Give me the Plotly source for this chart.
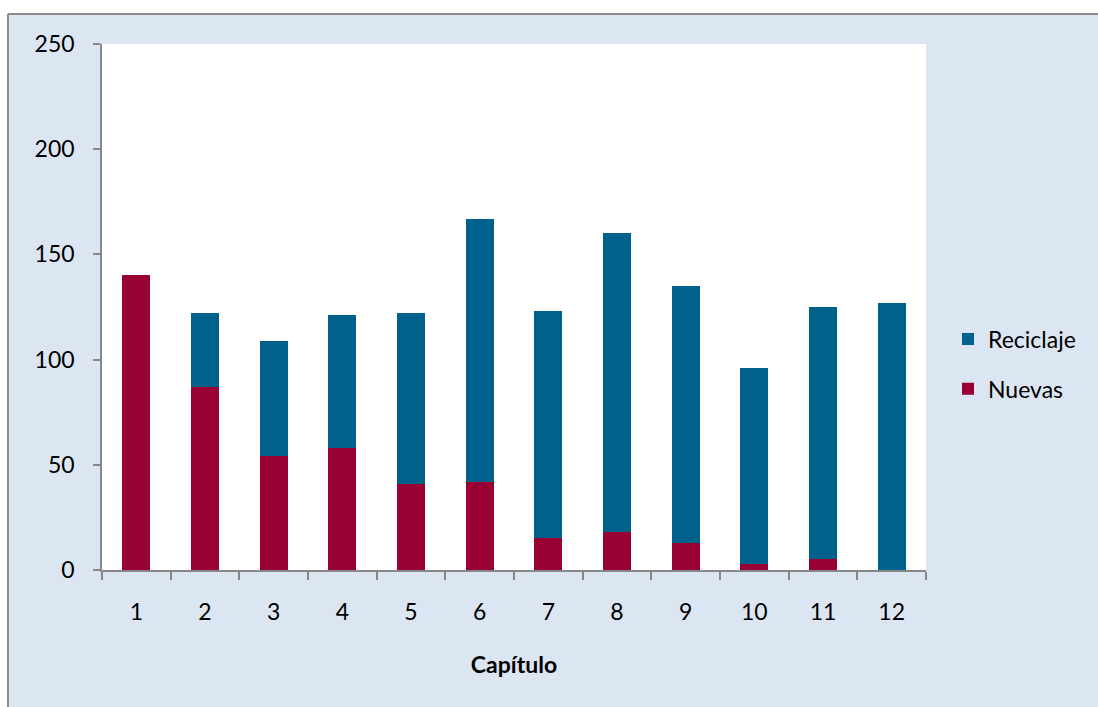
import plotly.graph_objects as go

# Chapters on the x axis and the two stacked series
capitulos = ["1", "2", "3", "4", "5", "6", "7", "8", "9", "10", "11", "12"]
nuevas = [140, 87, 54, 58, 41, 42, 15, 18, 13, 3, 5, 0]
reciclaje = [0, 35, 55, 63, 81, 125, 108, 142, 122, 93, 120, 127]
y_ticks = [0, 50, 100, 150, 200, 250]

ROJO = "#990033"
AZUL = "#00628B"
GRIS = "#878787"
FONDO = "#DCE6F2"
FUENTE = "Lato, 'Open Sans', sans-serif"

W, H = 1098, 707
ML, MR, MT, MB = 102, 172, 44, 137
PW, PH = W - ML - MR, H - MT - MB


def px_x(p):
    return (p - ML) / PW


def px_y(p):
    return (H - MB - p) / PH


fig = go.Figure()
fig.add_trace(go.Bar(x=capitulos, y=nuevas, name="Nuevas", marker_color=ROJO,
                     marker_line_width=0, legendgroup="a", legendrank=2))
fig.add_trace(go.Bar(x=capitulos, y=reciclaje, name="Reciclaje", marker_color=AZUL,
                     marker_line_width=0, legendgroup="b", legendrank=1))

# Outer frame: white strip left/top, grey border line
shapes = [
    dict(type="rect", xref="paper", yref="paper", x0=px_x(-5), x1=px_x(7),
         y0=px_y(720), y1=px_y(-5), fillcolor="white", line_width=0, layer="above"),
    dict(type="rect", xref="paper", yref="paper", x0=px_x(-5), x1=px_x(1110),
         y0=px_y(13), y1=px_y(-5), fillcolor="white", line_width=0, layer="above"),
    dict(type="line", xref="paper", yref="paper", x0=px_x(8), x1=px_x(8),
         y0=px_y(14), y1=px_y(720), line=dict(color="#8C8C8C", width=2), layer="above"),
    dict(type="line", xref="paper", yref="paper", x0=px_x(8), x1=px_x(1110),
         y0=px_y(14), y1=px_y(14), line=dict(color="#8C8C8C", width=2), layer="above"),
]

fig.update_layout(
    width=W, height=H,
    margin=dict(l=ML, r=MR, t=MT, b=MB, pad=0),
    barmode="stack",
    bargap=0.59,
    paper_bgcolor=FONDO,
    plot_bgcolor="white",
    font=dict(family=FUENTE, size=23, color="black"),
    shapes=shapes,
    legend=dict(
        x=px_x(948), y=px_y(364), xanchor="left", yanchor="middle",
        traceorder="grouped", tracegroupgap=17,
        bgcolor="rgba(0,0,0,0)", font=dict(size=23),
    ),
    xaxis=dict(
        type="category",
        showgrid=False,
        showline=True, linecolor=GRIS, linewidth=1.5,
        ticks="outside", tickson="boundaries", ticklen=8, tickcolor=GRIS, tickwidth=1.5,
        ticklabelstandoff=21,
        title=dict(text="<b>Capítulo</b>", standoff=33, font=dict(size=23)),
    ),
    yaxis=dict(
        range=[0, 250], tickvals=y_ticks,
        showgrid=False, zeroline=False,
        showline=True, linecolor=GRIS, linewidth=1.5,
        ticks="outside", ticklen=7, tickcolor=GRIS, tickwidth=1.5,
        ticklabelstandoff=14,
    ),
)

fig.write_html("out.html")
